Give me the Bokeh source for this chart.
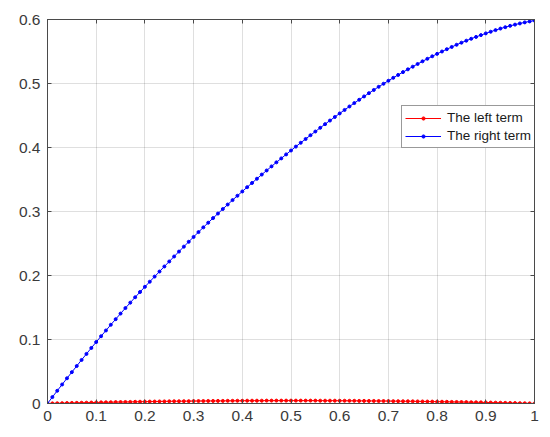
from bokeh.plotting import figure
from bokeh.models import Range1d, FixedTicker, NumeralTickFormatter, LinearAxis, CustomJSTickFormatter
from bokeh.embed import file_html
from bokeh.resources import INLINE

# sample grid (step 0.01)
x_vals = [i / 100 for i in range(101)]

# "The left term" (tiny bump near zero)
left_term = [
    0.0000, 0.0002, 0.0004, 0.0005, 0.0007, 0.0009, 0.0010, 0.0012, 0.0013, 0.0015,
    0.0016, 0.0018, 0.0019, 0.0020, 0.0022, 0.0023, 0.0024, 0.0025, 0.0027, 0.0028,
    0.0029, 0.0030, 0.0031, 0.0032, 0.0033, 0.0034, 0.0035, 0.0035, 0.0036, 0.0037,
    0.0038, 0.0039, 0.0039, 0.0040, 0.0040, 0.0041, 0.0041, 0.0042, 0.0042, 0.0043,
    0.0043, 0.0044, 0.0044, 0.0044, 0.0044, 0.0045, 0.0045, 0.0045, 0.0045, 0.0045,
    0.0045,
    0.0045, 0.0045, 0.0045, 0.0045, 0.0045, 0.0044, 0.0044, 0.0044, 0.0044, 0.0043,
    0.0043, 0.0042, 0.0042, 0.0041, 0.0041, 0.0040, 0.0040, 0.0039, 0.0039, 0.0038,
    0.0037, 0.0036, 0.0035, 0.0035, 0.0034, 0.0033, 0.0032, 0.0031, 0.0030, 0.0029,
    0.0028, 0.0027, 0.0025, 0.0024, 0.0023, 0.0022, 0.0020, 0.0019, 0.0018, 0.0016,
    0.0015, 0.0013, 0.0012, 0.0010, 0.0009, 0.0007, 0.0005, 0.0004, 0.0002, 0.0000,
]

# "The right term"
right_term = [
    0.0000, 0.0100, 0.0199, 0.0297, 0.0394, 0.0490, 0.0586, 0.0681, 0.0775, 0.0868,
    0.0960, 0.1051, 0.1141, 0.1230, 0.1318, 0.1405, 0.1491, 0.1576, 0.1660, 0.1742,
    0.1823, 0.1903, 0.1983, 0.2062, 0.2141, 0.2219, 0.2297, 0.2374, 0.2451, 0.2527,
    0.2603, 0.2678, 0.2752, 0.2825, 0.2897, 0.2968, 0.3039, 0.3109, 0.3178, 0.3246,
    0.3313, 0.3380, 0.3446, 0.3512, 0.3577, 0.3641, 0.3705, 0.3768, 0.3830, 0.3892,
    0.3953, 0.4014, 0.4074, 0.4133, 0.4192, 0.4250, 0.4308, 0.4365, 0.4421, 0.4477,
    0.4532, 0.4587, 0.4641, 0.4694, 0.4746, 0.4798, 0.4849, 0.4899, 0.4948, 0.4996,
    0.5043, 0.5089, 0.5134, 0.5178, 0.5221, 0.5263, 0.5305, 0.5346, 0.5386, 0.5425,
    0.5463, 0.5500, 0.5536, 0.5571, 0.5605, 0.5638, 0.5669, 0.5699, 0.5728, 0.5756,
    0.5783, 0.5809, 0.5834, 0.5858, 0.5880, 0.5901, 0.5920, 0.5938, 0.5955, 0.5970,
    0.5983,
]

x_ticks = [0, 0.1, 0.2, 0.3, 0.4, 0.5, 0.6, 0.7, 0.8, 0.9, 1]
y_ticks = [0, 0.1, 0.2, 0.3, 0.4, 0.5, 0.6]
series_names = ["The left term", "The right term"]
series_colors = ["#ff0000", "#0000ff"]

FONT = "Liberation Sans"
AXC = "#4a4a4a"
TXC = "#3a3a3a"

p = figure(width=545, height=430, output_backend="svg", toolbar_location=None,
           x_range=Range1d(0, 1), y_range=Range1d(0, 0.6),
           min_border_left=47, min_border_right=11, min_border_top=19, min_border_bottom=27)
p.background_fill_color = "white"
p.border_fill_color = "white"
p.outline_line_color = AXC
p.outline_line_width = 1

for ax, ticks in ((p.xaxis[0], x_ticks), (p.yaxis[0], y_ticks)):
    ax.ticker = FixedTicker(ticks=ticks)
    ax.formatter = NumeralTickFormatter(format="0.[0]")
    ax.major_tick_in = 4
    ax.major_tick_out = 0
    ax.minor_tick_line_color = None
    ax.axis_line_color = AXC
    ax.major_tick_line_color = AXC
    ax.major_label_text_font = FONT
    ax.major_label_text_font_size = "15.5px"
    ax.major_label_text_color = TXC
p.xaxis[0].major_label_standoff = 7
p.yaxis[0].major_label_standoff = 7

# top and right axes (ticks only, like a boxed MATLAB axes)
for side, ticks in (("above", x_ticks), ("right", y_ticks)):
    ax = LinearAxis(ticker=FixedTicker(ticks=ticks),
                    formatter=CustomJSTickFormatter(code="return ''"))
    ax.major_tick_in = 4
    ax.major_tick_out = 0
    ax.minor_tick_line_color = None
    ax.axis_line_color = AXC
    ax.major_tick_line_color = AXC
    ax.major_label_text_font_size = "1px"
    ax.major_label_standoff = 0
    p.add_layout(ax, side)

p.xgrid.ticker = FixedTicker(ticks=x_ticks)
p.ygrid.ticker = FixedTicker(ticks=y_ticks)
for g in (p.xgrid[0], p.ygrid[0]):
    g.grid_line_color = "#262626"
    g.grid_line_alpha = 0.15
    g.grid_line_width = 1

for ys, name, col in ((left_term, series_names[0], series_colors[0]),
                      (right_term, series_names[1], series_colors[1])):
    p.line(x_vals, ys, line_color=col, line_width=1, legend_label=name)
    p.scatter(x_vals, ys, size=3, fill_color=col, line_color=col, legend_label=name)

lg = p.legend[0]
lg.location = (354, 255)
lg.margin = 0
lg.padding = 3
lg.spacing = 1
lg.label_height = 17
lg.glyph_height = 8
lg.glyph_width = 36
lg.label_standoff = 6
lg.label_text_font = FONT
lg.label_text_font_size = "13.5px"
lg.label_text_color = "#1a1a1a"
lg.border_line_color = "#333333"
lg.border_line_width = 1
lg.background_fill_color = "white"
lg.background_fill_alpha = 1

open("out.html", "w").write(file_html(p, INLINE))
